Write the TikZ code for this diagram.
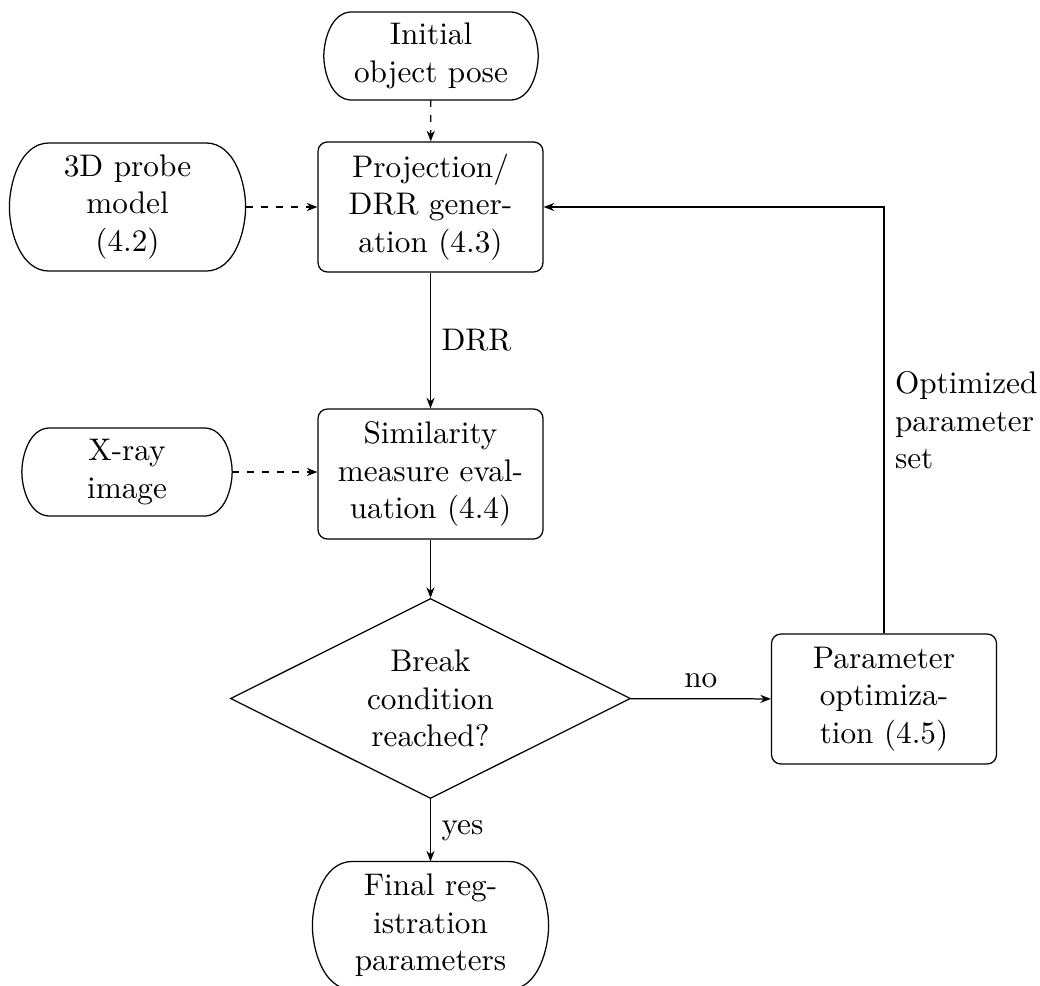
\documentclass[tikz,border=0pt]{standalone}
\usetikzlibrary{shapes.geometric,arrows.meta}
% #1 node, #2 horizontal extent of the end curve, #3 control offset from corner, #4 vertical control length
\newcommand\termshape[4]{%
  \draw ([xshift=#2]#1.north west) -- ([xshift=-#2]#1.north east)
    .. controls ([xshift=-#3]#1.north east) and ([yshift=#4]#1.east) .. (#1.east)
    .. controls ([yshift=-#4]#1.east) and ([xshift=-#3]#1.south east) .. ([xshift=-#2]#1.south east)
    -- ([xshift=#2]#1.south west)
    .. controls ([xshift=#3]#1.south west) and ([yshift=-#4]#1.west) .. (#1.west)
    .. controls ([yshift=#4]#1.west) and ([xshift=#3]#1.north west) .. ([xshift=#2]#1.north west)
    -- cycle;}
\begin{document}
\begin{tikzpicture}[x=0.32pt,y=-0.32pt,
  box/.style={draw, rectangle, rounded corners=3pt, minimum width=72pt, minimum height=41.6pt, text width=62pt, align=center, inner sep=0pt},
  term/.style={rectangle, inner sep=0pt, align=center},
  decision/.style={draw, diamond, aspect=2, inner sep=0pt, minimum width=128pt, minimum height=64pt, align=center},
  arr/.style={-{Stealth[length=3.4pt,width=2.6pt]}},
  dasharr/.style={arr, dash pattern=on 2.2pt off 2.6pt},
  lbl/.style={inner sep=3.33pt}]
\useasboundingbox (0,0) rectangle (1040,985);
\node[term, minimum width=68.2pt, minimum height=27.8pt] (init) at (431,56) {Initial\\object pose};
\node[box] (proj) at (430.5,207) {Projection/\\DRR gener-\\ation (4.3)};
\node[term, minimum width=75.2pt, minimum height=40.6pt] (probe) at (127.5,207) {3D probe\\model\\(4.2)};
\node[box] (sim) at (430.5,474) {Similarity\\measure eval-\\uation (4.4)};
\node[term, minimum width=66.9pt, minimum height=27.8pt] (xray) at (127,472) {X-ray\\image};
\node[decision] (dec) at (430.5,698.5) {Break\\condition\\reached?};
\node[box] (param) at (884,699) {Parameter\\optimiza-\\tion (4.5)};
\node[term, minimum width=75.2pt, minimum height=40.6pt] (final) at (430.5,925.5) {Final reg-\\istration\\parameters};

\termshape{init}{9pt}{2.25pt}{4.9pt}
\termshape{xray}{9pt}{2.25pt}{4.9pt}
\termshape{probe}{12.8pt}{3.2pt}{7.1pt}
\termshape{final}{12.8pt}{3.2pt}{7.1pt}

\draw[dasharr] (init) -- (proj);
\draw[dasharr] (probe) -- (proj);
\draw[dasharr] (xray.east) -- (xray.east -| sim.west);
\draw[arr] (proj) -- node[lbl, right] {DRR} (sim);
\draw[arr] (sim) -- (dec);
\draw[arr] (dec) -- node[lbl, above] {no} (param);
\draw[arr] (dec) -- node[lbl, right] {yes} (final);
\draw[arr] (param.north) |- node[pos=0.25, right, lbl, align=left] {Optimized\\parameter\\set} (proj.east);
\end{tikzpicture}
\end{document}
